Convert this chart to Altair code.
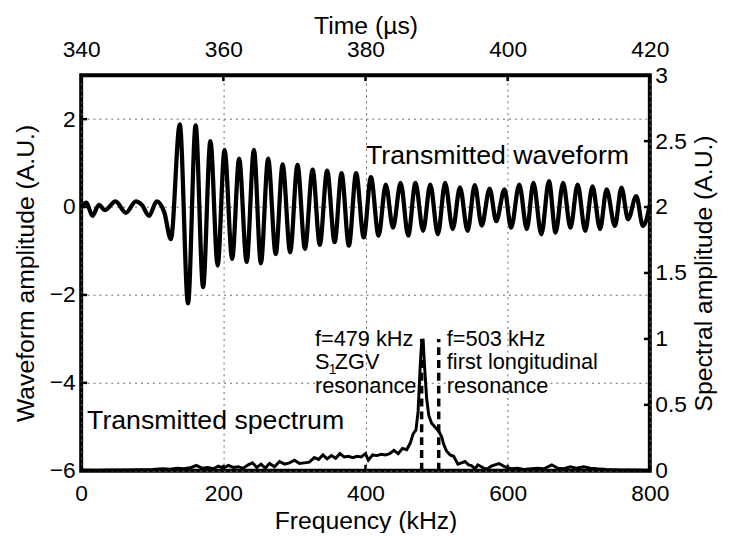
import altair as alt
import pandas as pd

# ---------------- data ----------------
time_us = [340.0, 340.74, 341.57, 342.5, 343.34, 344.83, 346.3, 347.69, 348.53, 349.56,
           350.62, 351.69, 352.62, 353.87, 355.03, 356.1, 357.15, 358.18, 359.2, 360.17,
           361.24, 362.22, 363.28, 364.3, 365.28, 366.3, 367.37, 368.34, 369.4, 370.43,
           371.48, 372.56, 373.57, 374.6, 375.66, 376.63, 377.66, 378.68, 379.75, 380.76,
           381.84, 382.85, 383.87, 384.94, 386.01, 387.03, 388.1, 389.11, 390.18, 391.2,
           392.27, 393.29, 394.36, 395.37, 396.35, 397.46, 398.39, 399.55, 400.48, 401.63,
           402.7, 403.62, 404.74, 405.81, 406.74, 407.8, 408.83, 409.84, 410.91, 411.93,
           413.0, 413.92, 415.09, 416.01, 416.94, 418.09, 419.03, 420.0]
waveform = [0.0, 0.1, -0.2, 0.05, -0.07, 0.13, -0.13, 0.13, 0.05, -0.2,
            0.13, -0.12, -0.73, 1.88, -2.19, 1.86, -1.82, 1.5, -1.33, 1.3,
            -1.18, 1.1, -1.25, 1.3, -1.28, 1.1, -1.07, 0.97, -1.03, 0.96,
            -0.95, 0.85, -0.86, 0.83, -0.8, 0.77, -0.88, 0.77, -0.69, 0.68,
            -0.65, 0.51, -0.47, 0.55, -0.65, 0.55, -0.54, 0.51, -0.62, 0.55,
            -0.5, 0.45, -0.54, 0.5, -0.42, 0.42, -0.32, 0.4, -0.47, 0.51,
            -0.5, 0.55, -0.62, 0.59, -0.58, 0.55, -0.47, 0.51, -0.54, 0.47,
            -0.5, 0.4, -0.43, 0.44, -0.28, 0.25, -0.43, 0.05]

freq_khz = [0, 20, 40, 60, 80, 100, 115, 125, 135, 145,
            155, 162, 170, 178, 186, 193, 200, 207, 214, 221,
            228, 235, 241, 247, 253, 259, 265, 272, 279, 286,
            293, 300, 307, 314, 321, 328, 334, 340, 346, 352,
            358, 364, 370, 376, 382, 388, 394, 400, 404, 410,
            416, 422, 428, 434, 440, 446, 452, 458, 463, 467,
            471, 474, 477, 479, 481, 483, 486, 489, 493, 498,
            503, 507, 510, 514, 519, 524, 530, 535, 540, 545,
            549, 554, 558, 563, 568, 572, 577, 582, 588, 596,
            605, 614, 623, 633, 642, 651, 662, 670, 679, 688,
            697, 707, 716, 725, 739, 762, 780, 800]
spectrum = [0.005, 0.004, 0.005, 0.006, 0.008, 0.01, 0.015, 0.012, 0.02, 0.015,
            0.025, 0.04, 0.02, 0.025, 0.015, 0.035, 0.02, 0.04, 0.025, 0.03,
            0.02, 0.045, 0.06, 0.025, 0.05, 0.02, 0.055, 0.03, 0.07, 0.05,
            0.06, 0.08, 0.055, 0.06, 0.065, 0.1, 0.085, 0.12, 0.09, 0.115,
            0.095, 0.13, 0.105, 0.11, 0.1, 0.11, 0.105, 0.13, 0.08, 0.12,
            0.115, 0.125, 0.12, 0.13, 0.155, 0.13, 0.17, 0.16, 0.21, 0.28,
            0.31, 0.45, 0.8, 0.97, 1.0, 0.8, 0.55, 0.42, 0.36, 0.33,
            0.3, 0.26, 0.2, 0.15, 0.12, 0.11, 0.05, 0.06, 0.07, 0.045,
            0.04, 0.015, 0.045, 0.03, 0.015, 0.015, 0.035, 0.045, 0.055, 0.03,
            0.015, 0.02, 0.01, 0.015, 0.02, 0.015, 0.045, 0.02, 0.015, 0.03,
            0.02, 0.03, 0.02, 0.015, 0.01, 0.005, 0.005, 0.004]

resonance_khz = [479, 503]
resonance_top = [1.0, 1.0]

time_ticks = [340, 360, 380, 400, 420]
wave_ticks = [-6, -4, -2, 0, 2]
freq_ticks = [0, 200, 400, 600, 800]
spec_ticks = [0, 0.5, 1, 1.5, 2, 2.5, 3]

assert len(time_us) == len(waveform)
assert len(freq_khz) == len(spectrum)

# ---------------- chart ----------------
FONT = "Liberation Sans"
W, H = 575, 400
TICK = 6  # inward tick length in px (MATLAB style)

wave_df = pd.DataFrame({"t": time_us, "v": waveform})
spec_df = pd.DataFrame({"f": freq_khz, "a": spectrum})
res_df = pd.DataFrame({"f": resonance_khz, "a0": [0] * len(resonance_khz), "a1": resonance_top})
one = pd.DataFrame({"_": [0]})

base_axis = dict(labelFont=FONT, labelFontSize=23, labelColor="black",
                 titleFont=FONT, titleFontSize=25, titleFontWeight="normal", titleColor="black",
                 domain=False, ticks=False, tickSize=0, labelOverlap=False, labelFlush=False,
                 titleAlign="center", titleBaseline="middle")
grid_style = dict(grid=True, gridDash=[2, 4], gridColor="#666666", gridWidth=1)

x_time = alt.X("t:Q", scale=alt.Scale(domain=[340, 420], nice=False, zero=False),
               axis=alt.Axis(orient="top", values=time_ticks, title="Time (µs)",
                             labelPadding=14, titleX=W / 2, titleY=-50,
                             **grid_style, **base_axis))
y_wave = alt.Y("v:Q", scale=alt.Scale(domain=[-6, 3], nice=False, zero=False),
               axis=alt.Axis(orient="left", values=wave_ticks, title="Waveform amplitude (A.U.)",
                             labelPadding=6, titleAngle=270, titleX=-56, titleY=H / 2,
                             **grid_style, **base_axis))

wave_line = alt.Chart(wave_df).mark_line(
    color="black", strokeWidth=4.3, interpolate="monotone"
).encode(x=x_time, y=y_wave)

wave_text = alt.Chart(one).mark_text(
    text="Transmitted waveform", align="left", baseline="alphabetic",
    font=FONT, fontSize=27, color="black"
).encode(x=alt.datum(380.07), y=alt.datum(0.98))

# inward tick marks (positions from the scales)
top_ticks = alt.Chart(pd.DataFrame({"t": time_ticks})).mark_rule(
    color="black", strokeWidth=2.5
).encode(x="t:Q", y=alt.value(0), y2=alt.value(TICK))
left_ticks = alt.Chart(pd.DataFrame({"v": wave_ticks})).mark_rule(
    color="black", strokeWidth=2.5
).encode(y="v:Q", x=alt.value(0), x2=alt.value(TICK))

wave_layer = alt.layer(wave_line, wave_text, top_ticks, left_ticks)

x_freq = alt.X("f:Q", scale=alt.Scale(domain=[0, 800], nice=False, zero=False),
               axis=alt.Axis(orient="bottom", values=freq_ticks, title="Frequency (kHz)",
                             labelPadding=12, titleX=W / 2, titleY=50, grid=False, **base_axis))
y_spec = alt.Y("a:Q", scale=alt.Scale(domain=[0, 3], nice=False, zero=False),
               axis=alt.Axis(orient="right", values=spec_ticks, format="~g",
                             title="Spectral amplitude (A.U.)", labelPadding=5,
                             titleAngle=270, titleX=54, titleY=H / 2, grid=False, **base_axis))

spec_line = alt.Chart(spec_df).mark_line(color="black", strokeWidth=3).encode(x=x_freq, y=y_spec)

res_rules = alt.Chart(res_df).mark_rule(
    color="black", strokeWidth=3.5, strokeDash=[8, 5]
).encode(x="f:Q", y="a0:Q", y2="a1:Q")

bottom_ticks = alt.Chart(pd.DataFrame({"f": freq_ticks})).mark_rule(
    color="black", strokeWidth=2.5
).encode(x="f:Q", y=alt.value(H - TICK), y2=alt.value(H))
right_ticks = alt.Chart(pd.DataFrame({"a": spec_ticks})).mark_rule(
    color="black", strokeWidth=2.5
).encode(y="a:Q", x=alt.value(W - TICK), x2=alt.value(W))


def label(txt, f, a, size=22, dx=0, dy=0):
    return alt.Chart(one).mark_text(
        text=txt, align="left", baseline="alphabetic", font=FONT, fontSize=size,
        color="black", dx=dx, dy=dy
    ).encode(x=alt.datum(f), y=alt.datum(a))


spec_texts = [
    label("Transmitted spectrum", 8.3, 0.315, size=27),
    label("f=479 kHz", 328.8, 0.947),
    label("S", 328.8, 0.77),
    label("1", 328.8, 0.77, size=14, dx=14, dy=5),
    label("ZGV", 328.8, 0.77, dx=20),
    label("resonance", 328.8, 0.59),
    label("f=503 kHz", 514.4, 0.947),
    label("first longitudinal", 514.4, 0.77),
    label("resonance", 514.4, 0.59),
]

spec_layer = alt.layer(spec_line, res_rules, bottom_ticks, right_ticks, *spec_texts)

chart = alt.layer(wave_layer, spec_layer).resolve_scale(
    x="independent", y="independent"
).properties(
    width=W, height=H,
    autosize=alt.AutoSizeParams(type="none"),
    padding={"left": 74, "top": 65, "right": 75, "bottom": 60},
).configure_view(stroke="black", strokeWidth=4)

chart.save("out.html", embed_options={"renderer": "svg", "actions": False})
